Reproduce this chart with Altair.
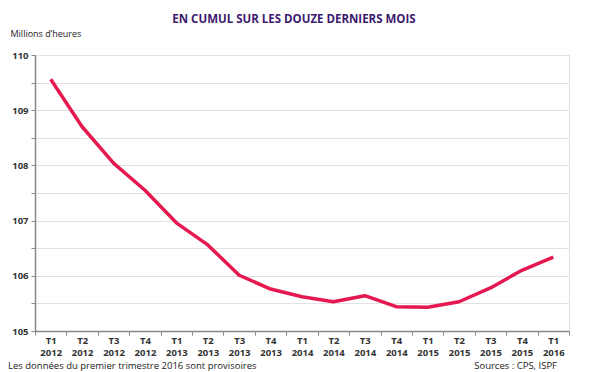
import altair as alt
import pandas as pd

quarters = ["T1 2012", "T2 2012", "T3 2012", "T4 2012",
            "T1 2013", "T2 2013", "T3 2013", "T4 2013",
            "T1 2014", "T2 2014", "T3 2014", "T4 2014",
            "T1 2015", "T2 2015", "T3 2015", "T4 2015",
            "T1 2016"]
heures = [109.56, 108.70, 108.04, 107.55,
          106.96, 106.56, 106.01, 105.76,
          105.62, 105.53, 105.64, 105.44,
          105.43, 105.53, 105.78, 106.10,
          106.34]
y_ticks = [105, 105.5, 106, 106.5, 107, 107.5, 108, 108.5, 109, 109.5, 110]

df = pd.DataFrame({"q": quarters, "v": heures})

W, H = 534, 276

line = alt.Chart(df).mark_line(color="#e5194f", strokeWidth=3.5, strokeJoin="round").encode(
    x=alt.X("q:N", sort=quarters,
            scale=alt.Scale(paddingInner=0, paddingOuter=0),
            axis=alt.Axis(title=None, labelAngle=0, tickBand="extent",
                          labelExpr="split(datum.label, ' ')",
                          labelFont="Open Sans", labelFontSize=9.5, labelFontWeight="bold",
                          labelColor="#333333", labelLineHeight=12.5, labelPadding=0,
                          domainColor="#888888", domainWidth=1.5,
                          tickColor="#888888", tickSize=4,
                          gridColor="#e2e2e2", gridWidth=1.2)),
    y=alt.Y("v:Q", scale=alt.Scale(domain=[105, 110], nice=False, zero=False),
            axis=alt.Axis(values=y_ticks,
                          labelExpr="datum.value % 1 == 0 ? format(datum.value, 'd') : ''",
                          title="Millions d\u2019heures", titleAngle=0,
                          titleX=-25, titleY=-22, titleAlign="left", titleBaseline="middle",
                          titleFont="Open Sans", titleFontSize=9, titleFontWeight="normal",
                          titleColor="#222222",
                          labelFont="Open Sans", labelFontSize=9.5, labelFontWeight="bold",
                          labelColor="#333333", labelPadding=3,
                          domainColor="#888888", domainWidth=1.5,
                          tickColor="#888888", tickSize=4,
                          gridColor="#e2e2e2", gridWidth=1.2)),
)

footer_left = alt.Chart(pd.DataFrame({"t": ["Les donn\u00e9es du premier trimestre 2016 sont provisoires"]})).mark_text(
    align="left", baseline="middle", font="Open Sans", fontSize=9.5, color="#222222"
).encode(x=alt.value(-27), y=alt.value(311), text="t:N")

footer_right = alt.Chart(pd.DataFrame({"t": ["Sources : CPS, ISPF"]})).mark_text(
    align="right", baseline="middle", font="Open Sans", fontSize=9.5, color="#222222"
).encode(x=alt.value(522), y=alt.value(311), text="t:N")

chart = alt.layer(line, footer_left, footer_right).properties(
    width=W, height=H,
    title=alt.TitleParams("EN CUMUL SUR LES DOUZE DERNIERS MOIS", anchor="middle",
                          font="Open Sans", fontSize=11.5, fontWeight="bold",
                          color="#3d1a6e", offset=4, dx=-8),
    padding={"left": 27, "top": 47, "right": 23, "bottom": 41},
    autosize=alt.AutoSizeParams(type="none"),
).configure_view(stroke=None).configure(background="white")

chart.save("out.html", embed_options={"renderer": "svg", "actions": False})
